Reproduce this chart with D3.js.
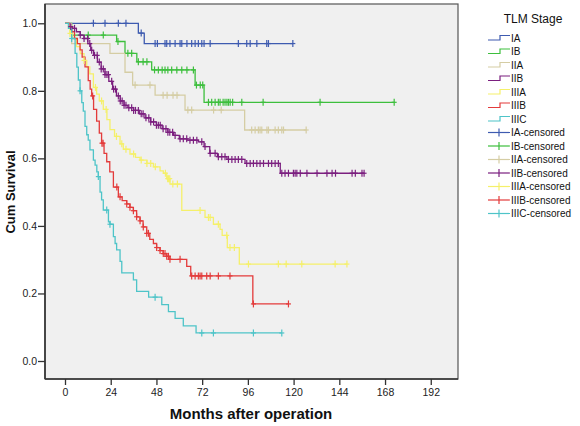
<!DOCTYPE html>
<html><head><meta charset="utf-8">
<script src="https://cdn.jsdelivr.net/npm/d3@7"></script>
<style>body{margin:0;background:#fff;font-family:"Liberation Sans",Arial,sans-serif}</style>
</head><body>
<svg id="chart" width="580" height="426"></svg>
<script>
// ---- data (time in months, cumulative survival) ----
const groups = ["IA","IB","IIA","IIB","IIIA","IIIB","IIIC"];
const colors = ["#3e5bb0","#3dbf3d","#d5cda4","#7b1f7f","#f5f06a","#e33b3b","#4ec4c8"];
const xTicks = [0,24,48,72,96,120,144,168,192];
const yTicks = [0.0,0.2,0.4,0.6,0.8,1.0];

const iaSteps = [[0,1],[38.5,0.971],[41.6,0.94]];
const iaEnd = 119.6;
const iaCens = [14.9,21,28,32,40,47.3,48.5,52.5,53.4,55.1,57.8,60.4,61.3,64,66.5,68.3,70,71.8,73,76.2,91,95.4,97.2,100.7,105.9,106.8,119.6];

const ibSteps = [[0,1],[3.5,0.965],[27.1,0.946],[31.5,0.911],[37.7,0.886],[45.5,0.862],[68.3,0.817],[73,0.766]];
const ibEnd = 172.8;
const ibCens = [12.2,20.1,27.8,33,35,38.5,41,43,47,49,51,52.5,54,56,58.7,61.3,64,67.4,69,71,72.3,75.3,77,78.8,80.5,81.4,83,84,85,85.8,86.7,88,92.8,104,133.9,172.8];

const iiaSteps = [[0,1],[3.5,0.94],[23.6,0.911],[31.5,0.855],[35.5,0.817],[47.3,0.787],[63,0.743],[94.3,0.684]];
const iiaEnd = 126.6;
const iiaCens = [36.8,44.6,51.5,53.6,56.7,58.8,64.5,66.5,78,82,98,99.8,101.5,102.4,103.3,106,106.8,110.3,112,113.8,114.7,126.6];

const iibSteps = [[0,1],[2,0.99],[4,0.985],[6,0.975],[8,0.965],[10,0.955],[12,0.94],[13.5,0.92],[15,0.905],[17,0.885],[19,0.865],[21,0.848],[23,0.828],[25,0.805],[27,0.785],[29,0.77],[31,0.757],[33,0.75],[36,0.742],[39,0.732],[42,0.72],[45,0.708],[48,0.698],[51,0.688],[54,0.677],[57,0.668],[60,0.658],[64,0.654],[70,0.649],[73,0.635],[76,0.615],[80,0.605],[85,0.597],[94.5,0.585],[113,0.556]];
const iibEnd = 157;
const iibCens = [3,5,8,10,11.9,13,14,15.5,16.9,18,19,20.1,21,22,22.8,24.5,25.5,26.5,28,29,30,31,32,33.5,35,36,37,38.5,40,41,42.5,44,45,46.5,48,49,50,51.5,53,54,55,56.5,57.8,60.4,62.1,63.9,65.6,67.4,69.2,71.8,73.5,76.2,78.8,80.5,82.3,84,85.8,87.6,89.3,91,92.8,95.4,97.2,98.9,100.7,102.4,104.2,106.8,108.5,110.3,112,113.8,115.5,117.3,119.9,120.8,121.7,123.5,127,132.3,137.5,140.2,142,150.7,152.4,155.9,157];

const iiiaSteps = [[0,1],[1.8,0.99],[2.6,0.97],[4,0.955],[6,0.931],[8,0.91],[10,0.89],[11.4,0.871],[13,0.85],[14.9,0.81],[16.6,0.79],[18,0.77],[20.1,0.745],[22,0.715],[23.6,0.685],[26,0.665],[28.9,0.643],[30.6,0.627],[34.1,0.613],[37,0.603],[39.4,0.595],[43,0.585],[46.4,0.575],[49.9,0.563],[51.6,0.556],[53.4,0.54],[55.1,0.524],[61.3,0.446],[73.5,0.425],[77.9,0.405],[81.4,0.39],[82.5,0.372],[85.2,0.336],[91.5,0.287]];
const iiiaEnd = 148;
const iiiaCens = [2.6,10,16,19.2,21.6,27,29.8,32,36,40,43,45,47.4,52.7,53.9,54.4,55,56.6,59,70.9,75.3,76.2,80.5,84.9,86.6,88.9,96.3,112,116.1,124.3,141.8,148];

const iiibSteps = [[0,1],[2,0.99],[3.5,0.975],[5,0.955],[6.5,0.94],[7.9,0.921],[9,0.9],[10.5,0.871],[12.2,0.83],[13.2,0.805],[14,0.785],[15,0.745],[16.6,0.71],[18,0.675],[19.2,0.645],[20.5,0.615],[21.9,0.59],[23.5,0.56],[25.4,0.515],[28,0.486],[30,0.475],[32.4,0.465],[34.1,0.455],[35.9,0.445],[37.6,0.427],[39.4,0.415],[41,0.397],[42.9,0.378],[44.5,0.36],[46.4,0.348],[48.1,0.336],[49.9,0.327],[51.5,0.318],[53.4,0.31],[55.1,0.301],[63.9,0.28],[66,0.252],[98.6,0.169]];
const iiibEnd = 117.3;
const iiibCens = [14.5,19.4,20,27.2,28.9,32.4,34.1,35.9,37.6,39.4,41.1,42.9,43.8,48.1,49.9,51.6,52.5,53.4,54.3,55.1,60.4,66.5,68.3,70,70.9,71.8,74.4,76.2,80.5,86.6,98.9,117.3];

const iiicSteps = [[0,1],[1.8,0.985],[3.5,0.955],[5.3,0.911],[6.2,0.87],[7,0.832],[7.9,0.8],[8.8,0.765],[9.6,0.74],[10.5,0.695],[11.4,0.67],[12.2,0.654],[13.1,0.625],[14.9,0.595],[15.8,0.58],[16.7,0.56],[17.5,0.546],[18.4,0.5],[19.2,0.477],[20.1,0.447],[22.8,0.412],[23.6,0.405],[25.4,0.368],[26.3,0.348],[27.1,0.329],[28.9,0.295],[29.8,0.261],[35.9,0.24],[37.6,0.206],[43.9,0.189],[50.8,0.167],[54.3,0.146],[57.8,0.126],[62.1,0.104],[68.8,0.083]];
const iiicEnd = 113.8;
const iiicCens = [3.5,7.9,17.5,21.9,23.6,47.3,71.8,77.9,98.9,113.8];

const allSteps = [iaSteps,ibSteps,iiaSteps,iibSteps,iiiaSteps,iiibSteps,iiicSteps];
const allEnds = [iaEnd,ibEnd,iiaEnd,iibEnd,iiiaEnd,iiibEnd,iiicEnd];
const allCens = [iaCens,ibCens,iiaCens,iibCens,iiiaCens,iiibCens,iiicCens];

// ---- drawing ----
const svg = d3.select("#chart");
const L=45, R=458, T=4, B=379;
const x = d3.scaleLinear().domain([-10.5,206.3]).range([L,R]);
const y = d3.scaleLinear().domain([-0.0533,1.0571]).range([B,T]);

svg.append("rect").attr("x",L).attr("y",T).attr("width",R-L).attr("height",B-T)
  .attr("fill","#f0f0f0").attr("stroke","none");

const line = d3.line().x(d=>x(d[0])).y(d=>y(d[1])).curve(d3.curveStepAfter);
const plot = svg.append("g");

function survAt(steps,t){let s=steps[0][1];for(const p of steps){if(p[0]<=t)s=p[1];}return s;}

allSteps.forEach((st,i)=>{
  const pts = st.concat([[allEnds[i], st[st.length-1][1]]]);
  plot.append("path").attr("d",line(pts)).attr("fill","none")
    .attr("stroke",colors[i]).attr("stroke-width",1.3);
});
allCens.forEach((cs,i)=>{
  const g = plot.append("g").attr("stroke",colors[i]).attr("stroke-width",1.2);
  cs.forEach(t=>{
    const cx=x(t), cy=y(survAt(allSteps[i],t));
    g.append("line").attr("x1",cx).attr("x2",cx).attr("y1",cy-3.5).attr("y2",cy+3.5);
    g.append("line").attr("x1",cx-2.5).attr("x2",cx+2.5).attr("y1",cy).attr("y2",cy);
  });
});

// frame
svg.append("rect").attr("x",L).attr("y",T).attr("width",R-L).attr("height",B-T)
  .attr("fill","none").attr("stroke","#555").attr("stroke-width",1.2);
svg.append("line").attr("x1",L).attr("x2",L).attr("y1",T).attr("y2",B).attr("stroke","#333").attr("stroke-width",1.6);
svg.append("line").attr("x1",L).attr("x2",R).attr("y1",B).attr("y2",B).attr("stroke","#333").attr("stroke-width",1.6);

// axes
const xAxis = svg.append("g").attr("transform",`translate(0,${B})`)
  .call(d3.axisBottom(x).tickValues(xTicks).tickFormat(d3.format("d")).tickSize(6).tickSizeOuter(0));
const yAxis = svg.append("g").attr("transform",`translate(${L},0)`)
  .call(d3.axisLeft(y).tickValues(yTicks).tickFormat(d3.format(".1f")).tickSize(7).tickSizeOuter(0));
[xAxis,yAxis].forEach(a=>{
  a.select(".domain").remove();
  a.selectAll(".tick line").attr("stroke","#333").attr("stroke-width",1.3);
  a.selectAll(".tick text").attr("fill","#222").style("font-size","10.5px")
    .style("font-family","'Liberation Sans',Arial,sans-serif");
});
xAxis.selectAll(".tick text").attr("y",10);
yAxis.selectAll(".tick text").attr("x",-8);

svg.append("text").attr("x",251).attr("y",419).attr("text-anchor","middle")
  .style("font-size","15px").style("font-weight","bold").attr("fill","#111")
  .style("font-family","'Liberation Sans',Arial,sans-serif").text("Months after operation");
svg.append("text").attr("transform","translate(15,192) rotate(-90)").attr("text-anchor","middle")
  .style("font-size","13px").style("font-weight","bold").attr("fill","#111")
  .style("font-family","'Liberation Sans',Arial,sans-serif").text("Cum Survival");

// legend
const leg = svg.append("g").style("font-family","'Liberation Sans',Arial,sans-serif");
leg.append("text").attr("x",533).attr("y",23).attr("text-anchor","middle")
  .style("font-size","12px").attr("fill","#111").text("TLM Stage");
const items = groups.map((g,i)=>({label:g,color:colors[i],cens:false}))
  .concat(groups.map((g,i)=>({label:g+"-censored",color:colors[i],cens:true})));
items.forEach((it,i)=>{
  const cy = 38 + i*13.5;
  if(!it.cens){
    leg.append("path").attr("d",`M488,${cy+2}H500V${cy-2.5}H510`).attr("fill","none")
      .attr("stroke",it.color).attr("stroke-width",1.2);
  } else {
    leg.append("line").attr("x1",488).attr("x2",510).attr("y1",cy).attr("y2",cy).attr("stroke",it.color).attr("stroke-width",1.2);
    leg.append("line").attr("x1",499).attr("x2",499).attr("y1",cy-4).attr("y2",cy+4).attr("stroke",it.color).attr("stroke-width",1.2);
  }
  leg.append("text").attr("x",511).attr("y",cy+3.5).style("font-size","10px").attr("fill","#111").text(it.label);
});
</script>
</body></html>
